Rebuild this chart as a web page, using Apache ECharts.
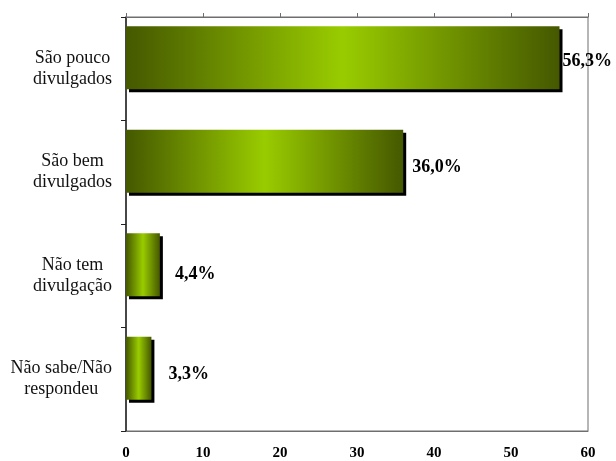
<!DOCTYPE html>
<html>
<head>
<meta charset="utf-8">
<script src="https://cdn.jsdelivr.net/npm/echarts@6/dist/echarts.min.js"></script>
<style>
  html, body { margin: 0; padding: 0; background: #fff; }
  #chart { width: 616px; height: 461px; }
</style>
</head>
<body>
<div id="chart"></div>
<script>
// Survey answers about how widely the activities are publicised (% of respondents)
const categories = ['São pouco\ndivulgados', 'São bem\ndivulgados', 'Não tem\ndivulgação', 'Não sabe/Não\nrespondeu'];
const percentages = [56.3, 36.0, 4.4, 3.3];
const percentLabels = ['56,3%', '36,0%', '4,4%', '3,3%'];
const xTicks = [0, 10, 20, 30, 40, 50, 60];

// label placement after each bar end: horizontal gap and vertical nudge
const labelDistance = [3, 9, 15, 17];
const labelShiftY = [4, 6, 10, 6];

const serif = '"Liberation Serif", "DejaVu Serif", serif';

const barGradient = {
  type: 'linear', x: 0, y: 0, x2: 1, y2: 0,
  colorStops: [
    { offset: 0, color: '#455800' },
    { offset: 0.5, color: '#99cc00' },
    { offset: 1, color: '#455800' }
  ]
};

const chart = echarts.init(document.getElementById('chart'), null, { renderer: 'canvas' });

chart.setOption({
  animation: false,
  backgroundColor: '#ffffff',
  grid: {
    left: 126, right: 28, top: 17, bottom: 28,
    show: true, borderColor: '#6e6e6e', borderWidth: 1, backgroundColor: 'transparent'
  },
  xAxis: [
    {
      type: 'value', position: 'bottom',
      min: xTicks[0], max: xTicks[xTicks.length - 1], interval: xTicks[1] - xTicks[0],
      axisLine: { show: true, lineStyle: { color: '#6e6e6e', width: 1 } },
      axisTick: { show: false },
      splitLine: { show: false },
      axisLabel: { margin: 15, color: '#000', fontFamily: serif, fontWeight: 'bold', fontSize: 15 }
    },
    {
      type: 'value', position: 'top',
      min: xTicks[0], max: xTicks[xTicks.length - 1], interval: xTicks[1] - xTicks[0],
      axisLine: { show: true, lineStyle: { color: '#6e6e6e', width: 1 } },
      axisTick: { show: true, inside: false, length: 4, lineStyle: { color: '#6e6e6e' } },
      splitLine: { show: false },
      axisLabel: { show: false }
    }
  ],
  yAxis: {
    type: 'category', data: categories, inverse: true,
    axisLine: { show: true, lineStyle: { color: '#222', width: 1.5 } },
    axisTick: { show: true, length: 5, lineStyle: { color: '#222' } },
    axisLabel: {
      margin: 14, align: 'right',
      // each line centred inside a right-aligned block
      formatter: v => v.split('\n').map(s => '{c|' + s + '}').join('\n'),
      rich: {
        c: { align: 'center', color: '#111', fontFamily: serif, fontSize: 18, lineHeight: 21 }
      }
    }
  },
  series: [
    {
      type: 'bar', xAxisIndex: 0,
      barWidth: 63, barGap: '-65%',
      data: percentages.map((v, i) => ({
        value: v,
        label: { distance: labelDistance[i], offset: [0, labelShiftY[i]] }
      })),
      itemStyle: {
        color: barGradient,
        shadowColor: '#000', shadowOffsetX: 3, shadowOffsetY: 3, shadowBlur: 0
      },
      label: {
        show: true, position: 'right',
        formatter: p => percentLabels[p.dataIndex],
        color: '#000', fontFamily: serif, fontWeight: 'bold', fontSize: 18
      }
    },
    {
      // empty companion series: reserves the lower slot of each band
      type: 'bar', xAxisIndex: 0, barWidth: 63,
      data: categories.map(() => '-'),
      silent: true
    }
  ]
});
</script>
</body>
</html>
